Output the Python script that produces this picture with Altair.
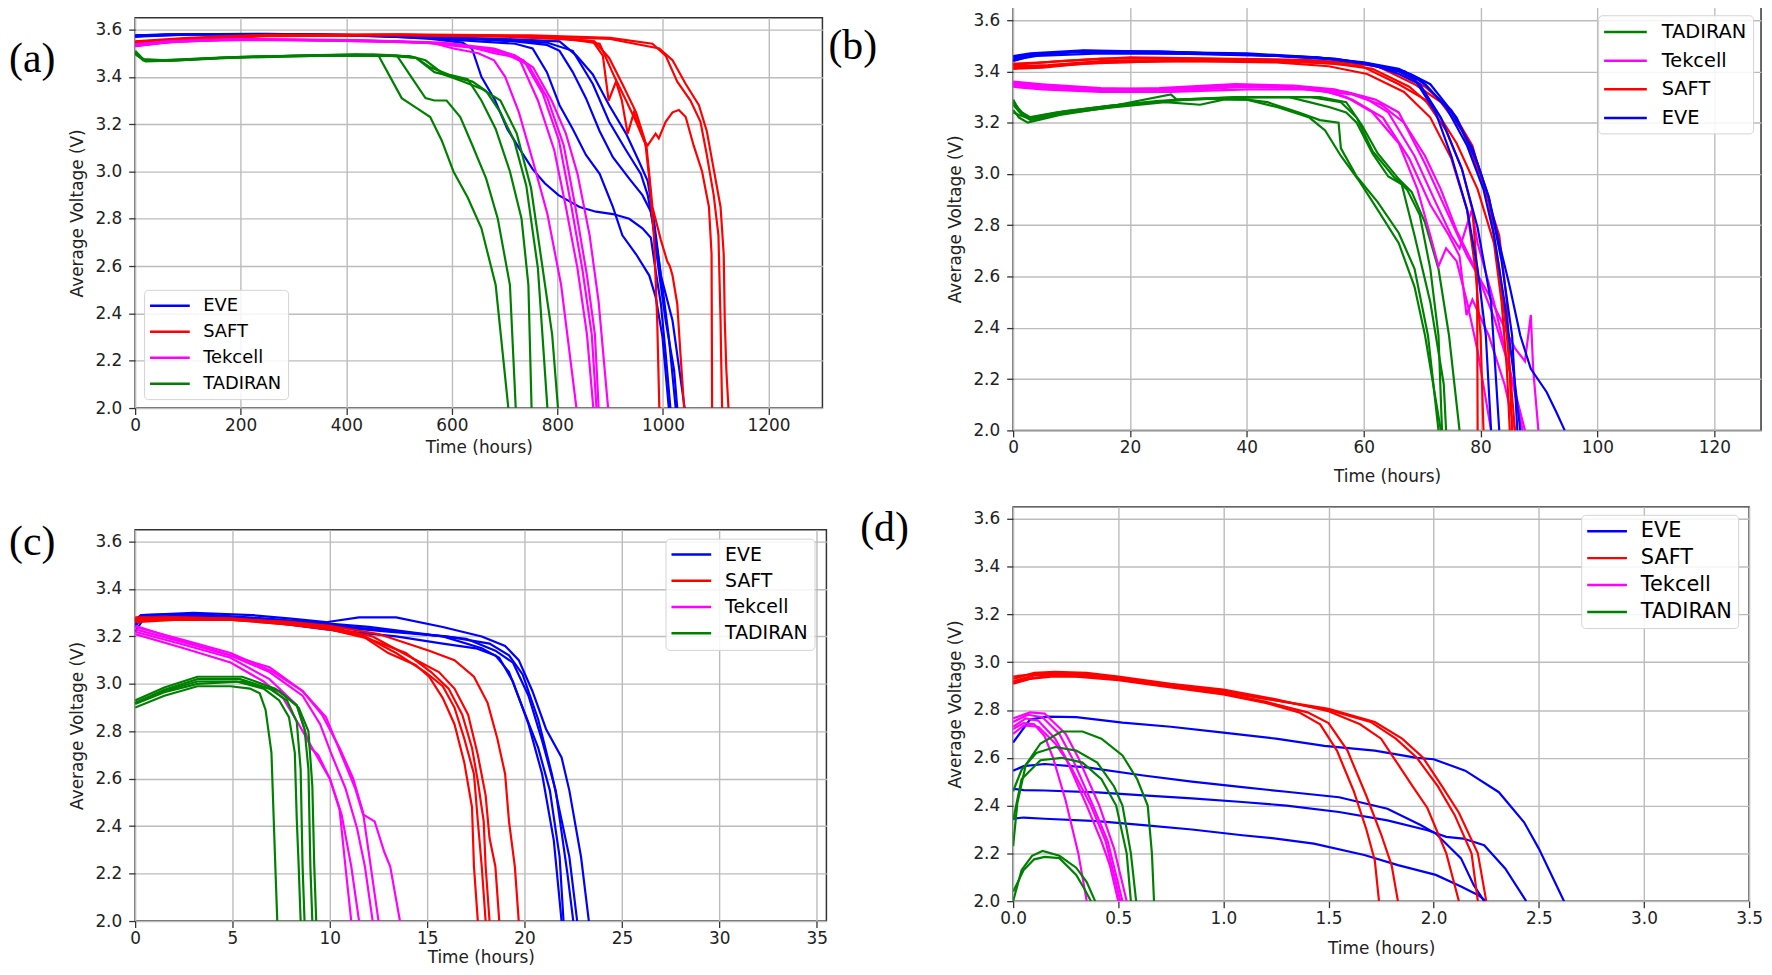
import math
import pandas as pd
import altair as alt

# ---- brands and colours (matplotlib style b / r / magenta / g)
brand_colors = {"EVE": "#0000ff", "SAFT": "#ff0000", "Tekcell": "#ff00ff", "TADIRAN": "#008000"}
volt_ticks = [2.0, 2.2, 2.4, 2.6, 2.8, 3.0, 3.2, 3.4, 3.6]

#%% (a) discharge curves, time in hours, [t, V] per cell
a_eve = [
    [(0, 3.575), (40, 3.578), (150, 3.58), (300, 3.58), (450, 3.575), (560, 3.56), (620, 3.545), (638, 3.52), (656, 3.40), (682, 3.30), (705, 3.18), (727, 3.10), (753, 3.01), (776, 2.95), (802, 2.90), (842, 2.85), (873, 2.83), (905, 2.82), (936, 2.80), (961, 2.76), (977, 2.72), (986, 2.58), (996, 2.44), (1005, 2.23), (1014, 2.0)],
    [(0, 3.57), (60, 3.58), (200, 3.58), (400, 3.575), (550, 3.565), (650, 3.55), (720, 3.54), (753, 3.52), (780, 3.42), (804, 3.28), (829, 3.18), (854, 3.07), (880, 2.99), (905, 2.85), (923, 2.73), (949, 2.65), (974, 2.56), (986, 2.47), (999, 2.30), (1011, 2.0)],
    [(0, 3.575), (80, 3.58), (250, 3.582), (450, 3.575), (600, 3.565), (720, 3.55), (780, 3.535), (804, 3.51), (829, 3.42), (854, 3.31), (880, 3.17), (905, 3.06), (936, 2.97), (961, 2.90), (977, 2.83), (986, 2.72), (999, 2.51), (1011, 2.30), (1024, 2.0)],
    [(0, 3.57), (100, 3.578), (300, 3.58), (500, 3.57), (650, 3.56), (780, 3.545), (829, 3.51), (867, 3.37), (898, 3.21), (930, 3.09), (958, 2.99), (971, 2.90), (980, 2.79), (992, 2.58), (1005, 2.37), (1021, 2.16), (1027, 2.0)],
    [(0, 3.572), (120, 3.58), (350, 3.58), (550, 3.57), (700, 3.56), (804, 3.55), (836, 3.49), (867, 3.41), (898, 3.28), (930, 3.16), (955, 3.04), (971, 2.96), (983, 2.79), (996, 2.56), (1018, 2.37), (1041, 2.0)],
]
a_saft = [
    [(0, 3.545), (100, 3.56), (250, 3.575), (500, 3.578), (700, 3.572), (800, 3.565), (870, 3.55), (898, 3.48), (923, 3.37), (949, 3.25), (966, 3.13), (974, 2.97), (983, 2.72), (989, 2.37), (993, 2.0)],
    [(0, 3.54), (100, 3.558), (250, 3.572), (500, 3.575), (700, 3.57), (800, 3.56), (867, 3.55), (886, 3.49), (897, 3.30), (911, 3.38), (922, 3.30), (933, 3.16), (945, 3.25), (958, 3.17), (969, 3.10), (980, 2.85), (996, 2.71), (1008, 2.62), (1013, 2.60), (1018, 2.56), (1027, 2.44), (1033, 2.23), (1040, 2.0)],
    [(0, 3.548), (100, 3.562), (250, 3.576), (500, 3.578), (700, 3.572), (820, 3.56), (880, 3.54), (908, 3.40), (930, 3.30), (949, 3.21), (964, 3.13), (971, 3.11), (986, 3.16), (992, 3.14), (1005, 3.21), (1018, 3.25), (1030, 3.26), (1043, 3.23), (1058, 3.11), (1074, 3.0), (1087, 2.85), (1092, 2.65), (1093, 2.0)],
    [(0, 3.55), (100, 3.565), (250, 3.578), (500, 3.58), (750, 3.575), (900, 3.565), (980, 3.54), (1005, 3.49), (1027, 3.38), (1052, 3.30), (1071, 3.21), (1083, 3.07), (1096, 2.90), (1105, 2.73), (1109, 2.37), (1110, 2.23), (1112, 2.0)],
    [(0, 3.543), (100, 3.56), (250, 3.574), (500, 3.578), (750, 3.572), (900, 3.56), (993, 3.52), (1018, 3.47), (1043, 3.37), (1068, 3.28), (1083, 3.17), (1096, 3.01), (1109, 2.85), (1115, 2.65), (1117, 2.37), (1120, 2.16), (1124, 2.0)],
]
a_tek = [
    [(0, 3.53), (50, 3.545), (150, 3.555), (300, 3.555), (450, 3.55), (560, 3.545), (603, 3.52), (650, 3.50), (680, 3.47), (701, 3.40), (727, 3.25), (754, 3.04), (781, 2.82), (807, 2.52), (836, 2.0)],
    [(0, 3.535), (60, 3.55), (180, 3.56), (350, 3.555), (500, 3.55), (620, 3.535), (680, 3.50), (727, 3.48), (763, 3.30), (794, 3.09), (816, 2.85), (838, 2.59), (856, 2.31), (868, 2.0)],
    [(0, 3.53), (70, 3.548), (200, 3.558), (400, 3.552), (550, 3.545), (650, 3.52), (700, 3.50), (736, 3.47), (772, 3.33), (803, 3.13), (825, 2.87), (847, 2.59), (865, 2.31), (874, 2.0)],
    [(0, 3.538), (80, 3.55), (220, 3.56), (420, 3.555), (580, 3.545), (680, 3.52), (720, 3.49), (754, 3.44), (789, 3.30), (816, 3.16), (838, 2.99), (861, 2.73), (878, 2.45), (896, 2.0)],
    [(0, 3.532), (90, 3.552), (250, 3.558), (450, 3.552), (600, 3.54), (690, 3.51), (745, 3.45), (781, 3.31), (812, 3.11), (834, 2.85), (856, 2.56), (871, 2.31), (878, 2.0)],
]
a_tad = [
    [(0, 3.51), (15, 3.475), (60, 3.47), (150, 3.48), (300, 3.49), (420, 3.495), (461, 3.49), (483, 3.40), (505, 3.31), (532, 3.27), (559, 3.23), (581, 3.13), (603, 3.0), (630, 2.89), (656, 2.76), (683, 2.52), (707, 2.0)],
    [(0, 3.50), (18, 3.47), (70, 3.468), (160, 3.48), (320, 3.49), (450, 3.495), (496, 3.49), (523, 3.40), (550, 3.31), (567, 3.30), (590, 3.30), (616, 3.23), (639, 3.11), (665, 2.97), (687, 2.80), (710, 2.52), (721, 2.0)],
    [(0, 3.495), (20, 3.465), (80, 3.47), (180, 3.48), (350, 3.49), (480, 3.49), (532, 3.48), (559, 3.44), (594, 3.41), (630, 3.39), (656, 3.30), (683, 3.18), (710, 3.0), (732, 2.80), (745, 2.52), (751, 2.0)],
    [(0, 3.505), (15, 3.47), (90, 3.472), (200, 3.485), (380, 3.492), (500, 3.49), (532, 3.48), (567, 3.42), (603, 3.40), (639, 3.38), (665, 3.34), (692, 3.25), (718, 3.13), (741, 2.94), (763, 2.59), (781, 2.0)],
    [(0, 3.50), (20, 3.468), (100, 3.475), (220, 3.485), (400, 3.49), (520, 3.488), (550, 3.47), (585, 3.41), (621, 3.38), (656, 3.35), (692, 3.30), (723, 3.16), (750, 2.93), (772, 2.59), (790, 2.31), (801, 2.0)],
]

#%% (b)
b_eve = [
    [(0, 3.44), (3, 3.46), (10, 3.475), (25, 3.478), (40, 3.465), (52, 3.455), (60, 3.43), (66, 3.40), (68.7, 3.37), (72.3, 3.24), (75, 3.07), (77.7, 2.86), (79.5, 2.63), (80.9, 2.37), (81.8, 2.0)],
    [(0, 3.45), (4, 3.465), (12, 3.48), (25, 3.475), (40, 3.47), (52, 3.455), (60, 3.435), (66, 3.41), (69.6, 3.37), (74.1, 3.26), (77.7, 3.11), (80.5, 2.94), (82.3, 2.76), (84.1, 2.50), (85.9, 2.18), (86.8, 2.0)],
    [(0, 3.455), (5, 3.47), (15, 3.478), (30, 3.47), (45, 3.462), (55, 3.45), (62, 3.425), (67, 3.40), (70.5, 3.35), (75, 3.24), (78.6, 3.10), (81.4, 2.91), (83.6, 2.66), (85.4, 2.37), (86.3, 2.0)],
    [(0, 3.445), (4, 3.46), (15, 3.47), (30, 3.468), (45, 3.46), (56, 3.445), (63, 3.42), (68, 3.39), (71.4, 3.35), (75.9, 3.22), (79.5, 3.04), (81.4, 2.91), (83.2, 2.73), (85, 2.56), (86.8, 2.37), (88.6, 2.24), (91.3, 2.15), (93, 2.07), (94.4, 2.0)],
    [(0, 3.46), (3, 3.47), (12, 3.482), (28, 3.475), (42, 3.465), (54, 3.45), (61, 3.43), (66, 3.39), (69.6, 3.35), (73.2, 3.22), (76.8, 3.02), (79.5, 2.79), (81.8, 2.50), (83.2, 2.0)],
]
b_saft = [
    [(0, 3.41), (5, 3.415), (12, 3.43), (25, 3.44), (40, 3.44), (52, 3.435), (59.7, 3.42), (66, 3.35), (70.5, 3.29), (74.1, 3.17), (76.8, 3.02), (78.6, 2.86), (79.4, 2.63), (79.5, 2.0)],
    [(0, 3.42), (6, 3.425), (15, 3.44), (30, 3.445), (45, 3.44), (55, 3.43), (61.5, 3.41), (67.8, 3.34), (72.3, 3.25), (75.9, 3.12), (79.5, 2.94), (82.3, 2.73), (83.6, 2.50), (84.5, 2.24), (85, 2.0)],
    [(0, 3.43), (5, 3.435), (15, 3.45), (30, 3.45), (45, 3.445), (56, 3.435), (62.4, 3.42), (68.7, 3.35), (73.2, 3.28), (76.8, 3.17), (80, 2.99), (83.2, 2.76), (84.5, 2.50), (85.4, 2.0)],
    [(0, 3.425), (8, 3.44), (20, 3.455), (35, 3.45), (50, 3.445), (60, 3.43), (66, 3.40), (70.5, 3.34), (75, 3.25), (78.6, 3.11), (81.4, 2.89), (83.2, 2.63), (84.5, 2.37), (85.9, 2.0)],
    [(0, 3.415), (6, 3.42), (16, 3.435), (30, 3.44), (45, 3.435), (54, 3.42), (60.6, 3.39), (66.9, 3.32), (71.4, 3.22), (75, 3.06), (77.7, 2.86), (79.1, 2.63), (80, 2.37), (80.5, 2.0)],
]
b_tek = [
    [(0, 3.36), (5, 3.35), (15, 3.335), (25, 3.33), (35, 3.345), (45, 3.345), (52, 3.33), (57, 3.30), (61.5, 3.24), (66, 3.12), (69.2, 2.94), (71.4, 2.76), (72.8, 2.64), (74.1, 2.71), (75.9, 2.66), (77.7, 2.50), (79.5, 2.31), (81.8, 2.0)],
    [(0, 3.35), (6, 3.34), (16, 3.325), (26, 3.33), (36, 3.34), (46, 3.34), (54, 3.32), (58, 3.29), (63.3, 3.22), (67.8, 3.06), (71.4, 2.88), (74.6, 2.76), (76.4, 2.68), (77.6, 2.45), (78.6, 2.51), (81.4, 2.37), (84.1, 2.18), (85.9, 2.0)],
    [(0, 3.355), (5, 3.345), (15, 3.33), (25, 3.335), (38, 3.35), (48, 3.345), (55, 3.33), (60, 3.30), (64.2, 3.24), (68.7, 3.07), (72.3, 2.89), (75, 2.76), (76.4, 2.71), (78.5, 2.86), (79.5, 2.73), (82.3, 2.50), (84.9, 2.24), (87.6, 2.0)],
    [(0, 3.345), (6, 3.335), (18, 3.32), (28, 3.325), (40, 3.34), (50, 3.335), (57, 3.32), (62, 3.29), (66, 3.24), (70.5, 3.04), (74.1, 2.86), (77.7, 2.68), (81.4, 2.53), (84.1, 2.40), (85.9, 2.32), (87.6, 2.27), (88.6, 2.45), (89, 2.24), (89.9, 2.0)],
    [(0, 3.34), (5, 3.33), (15, 3.32), (27, 3.32), (40, 3.33), (50, 3.33), (58, 3.31), (63, 3.27), (66.9, 3.20), (70.5, 3.07), (73.2, 2.94), (75.9, 2.78), (79.1, 2.63), (82.3, 2.44), (85, 2.24), (87.2, 2.0)],
]
b_tad = [
    [(0, 3.29), (1, 3.25), (2.5, 3.22), (7.5, 3.24), (16, 3.265), (25, 3.285), (35, 3.295), (40, 3.29), (43.5, 3.28), (48.9, 3.24), (52.5, 3.21), (55.7, 3.20), (56.1, 3.10), (58.8, 2.99), (62.4, 2.89), (66, 2.77), (68.7, 2.63), (71, 2.37), (72.8, 2.0)],
    [(0, 3.27), (1.5, 3.23), (3, 3.21), (8, 3.235), (17, 3.26), (26, 3.28), (32, 3.27), (36, 3.29), (40, 3.29), (45.3, 3.26), (50.7, 3.22), (53.4, 3.17), (56.1, 3.07), (59.3, 2.97), (62.4, 2.86), (66, 2.73), (68.7, 2.56), (70.5, 2.37), (73.2, 2.0)],
    [(0, 3.25), (1, 3.22), (2.5, 3.20), (8, 3.23), (18, 3.265), (28, 3.29), (38, 3.30), (47.1, 3.30), (50.7, 3.28), (54.2, 3.26), (57, 3.24), (58.8, 3.20), (61.5, 3.08), (64.2, 2.99), (66.5, 2.96), (68.7, 2.76), (71.4, 2.50), (73.7, 2.18), (74.1, 2.0)],
    [(0, 3.28), (1.5, 3.24), (3, 3.22), (9, 3.245), (18, 3.27), (27, 3.31), (28, 3.29), (40, 3.30), (50.7, 3.30), (56.1, 3.28), (58.8, 3.22), (61.5, 3.09), (65.1, 2.99), (67.4, 2.94), (69.6, 2.84), (71.4, 2.63), (72.8, 2.37), (73.4, 2.0)],
    [(0, 3.24), (1, 3.23), (3, 3.215), (9, 3.24), (18, 3.27), (30, 3.29), (42, 3.30), (52.5, 3.30), (57, 3.28), (59.7, 3.19), (62.4, 3.08), (66, 2.98), (68.2, 2.93), (70.5, 2.81), (72.8, 2.63), (74.6, 2.37), (76.4, 2.0)],
]

#%% (c)
c_eve = [
    [(0, 3.24), (0.4, 3.29), (3, 3.30), (6, 3.29), (8, 3.275), (9.8, 3.26), (11.5, 3.28), (13.4, 3.28), (15.8, 3.24), (17.8, 3.20), (19, 3.16), (19.7, 3.10), (20.4, 2.97), (21.1, 2.81), (21.9, 2.69), (22.3, 2.55), (22.9, 2.27), (23.3, 2.0)],
    [(0, 3.26), (0.3, 3.28), (3, 3.29), (6, 3.27), (9.8, 3.23), (13.4, 3.20), (15.8, 3.17), (17.5, 3.15), (18.5, 3.12), (19.2, 3.05), (19.9, 2.90), (20.7, 2.73), (21.3, 2.55), (21.8, 2.27), (22, 2.0)],
    [(0, 3.27), (0.3, 3.29), (3, 3.295), (6, 3.28), (9, 3.26), (12, 3.24), (15.8, 3.20), (17.8, 3.15), (18.7, 3.11), (19.4, 3.01), (20.2, 2.83), (20.9, 2.62), (21.5, 2.34), (21.9, 2.0)],
    [(0, 3.25), (0.4, 3.28), (3, 3.285), (6, 3.275), (9, 3.255), (13, 3.225), (17, 3.19), (18.5, 3.14), (19.4, 3.09), (20.2, 2.95), (20.9, 2.76), (21.6, 2.55), (22.2, 2.20), (22.5, 2.0)],
    [(0, 3.22), (0.4, 3.27), (3, 3.28), (6, 3.27), (9, 3.25), (13, 3.22), (16, 3.20), (18.2, 3.17), (19.2, 3.12), (19.9, 3.04), (20.7, 2.85), (21.4, 2.62), (22.3, 2.27), (22.7, 2.0)],
]
c_saft = [
    [(0, 3.27), (2, 3.275), (5, 3.27), (8, 3.25), (10, 3.23), (11.7, 3.20), (13, 3.13), (14.4, 3.08), (15.1, 3.03), (15.8, 2.94), (16.4, 2.83), (16.9, 2.67), (17.3, 2.48), (17.4, 2.23), (17.6, 2.0)],
    [(0, 3.28), (2, 3.28), (5, 3.275), (8, 3.255), (10, 3.235), (11.8, 3.20), (13.4, 3.13), (14.9, 3.05), (15.8, 2.99), (16.4, 2.90), (16.9, 2.77), (17.4, 2.62), (17.6, 2.42), (17.8, 2.23), (18.0, 2.0)],
    [(0, 3.26), (2, 3.27), (5, 3.27), (8, 3.25), (10, 3.23), (12, 3.19), (13.9, 3.13), (15.2, 3.05), (16.1, 2.98), (16.8, 2.87), (17.3, 2.73), (17.6, 2.59), (17.9, 2.42), (18.0, 2.23), (18.2, 2.0)],
    [(0, 3.275), (2, 3.28), (5, 3.275), (8, 3.26), (10, 3.24), (12.2, 3.20), (14.2, 3.11), (15.6, 3.05), (16.4, 2.98), (17.1, 2.87), (17.6, 2.70), (18.0, 2.53), (18.2, 2.35), (18.5, 2.23), (18.7, 2.0)],
    [(0, 3.265), (2, 3.275), (5, 3.27), (8, 3.26), (10, 3.245), (12.5, 3.21), (15.1, 3.14), (16.4, 3.10), (17.4, 3.03), (18.1, 2.92), (18.6, 2.77), (19.0, 2.62), (19.2, 2.42), (19.5, 2.23), (19.7, 2.0)],
]
c_tek = [
    [(0, 3.21), (2.5, 3.15), (4.9, 3.09), (6.6, 3.01), (7.6, 2.94), (8.4, 2.83), (9.3, 2.70), (10, 2.60), (10.5, 2.47), (10.8, 2.23), (11.1, 2.0)],
    [(0, 3.22), (2.5, 3.165), (4.9, 3.11), (6.9, 3.02), (8.3, 2.91), (9, 2.73), (9.4, 2.70), (10, 2.60), (10.6, 2.45), (11.1, 2.23), (11.5, 2.0)],
    [(0, 3.23), (2.5, 3.175), (4.9, 3.12), (6.9, 3.05), (8.6, 2.95), (9.5, 2.83), (10.1, 2.70), (10.8, 2.56), (11.4, 2.39), (11.8, 2.23), (12.2, 2.0)],
    [(0, 3.24), (2.5, 3.185), (4.9, 3.13), (7.1, 3.05), (8.6, 2.97), (9.6, 2.87), (10.5, 2.73), (11.2, 2.60), (11.7, 2.46), (12.1, 2.23), (12.5, 2.0)],
    [(0, 3.245), (2.5, 3.18), (4.9, 3.12), (6.9, 3.07), (8.6, 2.97), (9.8, 2.86), (10.6, 2.70), (11.3, 2.56), (11.7, 2.45), (12.3, 2.42), (12.8, 2.29), (13.1, 2.23), (13.6, 2.0)],
]
c_tad = [
    [(0, 2.90), (1.5, 2.95), (3.2, 2.99), (4.9, 2.99), (5.9, 2.98), (6.4, 2.96), (6.7, 2.89), (7.0, 2.71), (7.2, 2.23), (7.3, 2.0)],
    [(0, 2.92), (1.5, 2.97), (3.2, 3.01), (5.2, 3.01), (6.6, 2.98), (7.4, 2.93), (7.9, 2.86), (8.2, 2.71), (8.3, 2.43), (8.4, 2.23), (8.5, 2.0)],
    [(0, 2.92), (1.5, 2.975), (3.2, 3.02), (5.4, 3.02), (6.9, 2.98), (7.8, 2.93), (8.3, 2.84), (8.5, 2.64), (8.6, 2.23), (8.7, 2.0)],
    [(0, 2.93), (1.5, 2.985), (3.2, 3.03), (5.5, 3.03), (7.2, 2.98), (8.3, 2.91), (8.7, 2.81), (8.9, 2.64), (9.0, 2.23), (9.1, 2.0)],
    [(0, 2.915), (1.5, 2.965), (3.2, 3.0), (5.5, 3.01), (7.4, 2.97), (8.4, 2.90), (8.9, 2.80), (9.1, 2.57), (9.2, 2.23), (9.3, 2.0)],
]

#%% (d)
d_eve = [
    [(0, 2.664), (0.08, 2.76), (0.16, 2.772), (0.3, 2.77), (0.52, 2.747), (0.75, 2.73), (1.0, 2.705), (1.25, 2.68), (1.48, 2.65), (1.72, 2.63), (1.92, 2.6), (2.0, 2.594), (2.15, 2.546), (2.31, 2.456), (2.43, 2.33), (2.5, 2.22), (2.62, 2.0)],
    [(0, 2.546), (0.05, 2.565), (0.15, 2.574), (0.35, 2.56), (0.62, 2.526), (0.85, 2.5), (1.09, 2.477), (1.3, 2.458), (1.55, 2.435), (1.78, 2.387), (1.94, 2.318), (2.01, 2.283), (2.13, 2.179), (2.19, 2.068), (2.24, 2.0)],
    [(0, 2.47), (0.05, 2.465), (0.15, 2.463), (0.4, 2.455), (0.62, 2.443), (0.85, 2.43), (1.09, 2.415), (1.3, 2.4), (1.55, 2.373), (1.78, 2.338), (1.97, 2.297), (2.06, 2.269), (2.14, 2.262), (2.24, 2.234), (2.34, 2.137), (2.44, 2.0)],
    [(0, 2.345), (0.05, 2.35), (0.15, 2.345), (0.4, 2.335), (0.62, 2.318), (0.85, 2.3), (1.09, 2.276), (1.25, 2.262), (1.43, 2.241), (1.67, 2.193), (1.83, 2.151), (2.01, 2.11), (2.13, 2.061), (2.21, 2.026), (2.25, 2.0)],
]
d_saft = [
    [(0, 2.91), (0.08, 2.93), (0.18, 2.94), (0.3, 2.94), (0.5, 2.925), (0.75, 2.895), (1.0, 2.865), (1.2, 2.83), (1.36, 2.79), (1.46, 2.74), (1.54, 2.63), (1.62, 2.46), (1.68, 2.3), (1.72, 2.17), (1.74, 2.0)],
    [(0, 2.92), (0.1, 2.945), (0.2, 2.95), (0.35, 2.945), (0.5, 2.93), (0.75, 2.9), (1.0, 2.87), (1.2, 2.835), (1.4, 2.79), (1.5, 2.745), (1.59, 2.63), (1.68, 2.44), (1.75, 2.28), (1.8, 2.15), (1.83, 2.0)],
    [(0, 2.93), (0.1, 2.955), (0.2, 2.96), (0.35, 2.955), (0.5, 2.94), (0.75, 2.91), (1.0, 2.885), (1.25, 2.845), (1.5, 2.795), (1.65, 2.74), (1.75, 2.68), (1.81, 2.6), (1.9, 2.48), (1.97, 2.39), (2.06, 2.2), (2.12, 2.0)],
    [(0, 2.94), (0.1, 2.95), (0.22, 2.955), (0.35, 2.95), (0.5, 2.935), (0.75, 2.905), (1.0, 2.88), (1.25, 2.84), (1.5, 2.80), (1.7, 2.75), (1.82, 2.68), (1.92, 2.6), (2.02, 2.48), (2.1, 2.36), (2.18, 2.2), (2.21, 2.0)],
    [(0, 2.915), (0.1, 2.935), (0.2, 2.945), (0.35, 2.94), (0.5, 2.93), (0.75, 2.9), (1.0, 2.875), (1.25, 2.84), (1.5, 2.805), (1.72, 2.75), (1.85, 2.68), (1.95, 2.6), (2.04, 2.48), (2.12, 2.37), (2.21, 2.2), (2.25, 2.0)],
]
d_tek = [
    [(0, 2.72), (0.05, 2.745), (0.1, 2.74), (0.15, 2.69), (0.19, 2.6), (0.25, 2.42), (0.31, 2.2), (0.35, 2.0)],
    [(0, 2.73), (0.06, 2.765), (0.12, 2.755), (0.2, 2.68), (0.25, 2.6), (0.35, 2.4), (0.42, 2.25), (0.46, 2.15), (0.5, 2.0)],
    [(0, 2.75), (0.07, 2.78), (0.14, 2.77), (0.22, 2.7), (0.28, 2.6), (0.38, 2.4), (0.45, 2.25), (0.52, 2.0)],
    [(0, 2.765), (0.08, 2.79), (0.15, 2.785), (0.25, 2.7), (0.31, 2.6), (0.41, 2.4), (0.48, 2.22), (0.54, 2.0)],
    [(0, 2.70), (0.05, 2.735), (0.12, 2.73), (0.2, 2.66), (0.27, 2.57), (0.37, 2.4), (0.44, 2.25), (0.51, 2.0)],
]
d_tad = [
    [(0, 2.23), (0.02, 2.41), (0.06, 2.57), (0.13, 2.66), (0.23, 2.71), (0.33, 2.71), (0.42, 2.68), (0.52, 2.61), (0.59, 2.51), (0.64, 2.4), (0.66, 2.2), (0.67, 2.0)],
    [(0, 2.46), (0.04, 2.55), (0.11, 2.62), (0.2, 2.645), (0.3, 2.63), (0.4, 2.58), (0.48, 2.48), (0.52, 2.4), (0.56, 2.2), (0.585, 2.0)],
    [(0, 2.34), (0.04, 2.51), (0.13, 2.59), (0.23, 2.60), (0.33, 2.58), (0.42, 2.51), (0.49, 2.4), (0.54, 2.2), (0.56, 2.0)],
    [(0, 2.0), (0.04, 2.13), (0.09, 2.19), (0.14, 2.21), (0.22, 2.19), (0.3, 2.14), (0.35, 2.08), (0.39, 2.0)],
    [(0, 2.04), (0.05, 2.13), (0.1, 2.175), (0.15, 2.185), (0.22, 2.18), (0.3, 2.11), (0.34, 2.05), (0.37, 2.0)],
]


#%% build long tables (one row per point, cell id keeps the lines apart)
def to_frame(groups):
    rows = []
    for brand, curves in groups:
        for k, curve in enumerate(curves):
            for i, (t, v) in enumerate(curve):
                rows.append({"brand": brand, "cell": brand + str(k), "i": i, "t": t, "v": v})
    return pd.DataFrame(rows)


df_a = to_frame([("EVE", a_eve), ("SAFT", a_saft), ("Tekcell", a_tek), ("TADIRAN", a_tad)])
df_b = to_frame([("TADIRAN", b_tad), ("Tekcell", b_tek), ("SAFT", b_saft), ("EVE", b_eve)])
df_c = to_frame([("EVE", c_eve), ("SAFT", c_saft), ("Tekcell", c_tek), ("TADIRAN", c_tad)])
df_d = to_frame([("EVE", d_eve), ("SAFT", d_saft), ("Tekcell", d_tek), ("TADIRAN", d_tad)])

SYM_PATH = "M-2.3,0H2.3"  # flat line symbol, like matplotlib's legend handles


def make_legend(lx, ly, fs, row_gap, sym_len, gap):
    s = sym_len / 2.3                      # sqrt(symbol size)
    cell = max(math.ceil(s + 2.5), fs)     # vega legend entry size
    sym_off = sym_len / 2 - cell / 2
    return alt.Legend(title=None, orient="none", legendX=lx, legendY=ly,
                      symbolType=SYM_PATH, symbolSize=s * s, symbolStrokeWidth=2.5,
                      symbolOffset=sym_off, labelOffset=sym_len + gap - cell - sym_off,
                      labelFont="DejaVu Sans", labelFontSize=fs, labelColor="#000000",
                      rowPadding=row_gap - fs - 1, padding=6,
                      fillColor="rgba(255,255,255,0.85)", strokeColor="#d4d4d4", cornerRadius=4)


def panel(df, order, xmax, xticks, xfmt, w, h, legend, tag, tag_pos, tpad):
    lines = alt.Chart(df).mark_line(strokeWidth=2.2, clip=True).encode(
        x=alt.X("t:Q", scale=alt.Scale(domain=[0, xmax], nice=False, zero=False),
                axis=alt.Axis(values=xticks, format=xfmt, title="Time (hours)", titlePadding=tpad)),
        y=alt.Y("v:Q", scale=alt.Scale(domain=[2.0, 3.65], nice=False, zero=False),
                axis=alt.Axis(values=volt_ticks, format=".1f", title="Average Voltage (V)")),
        color=alt.Color("brand:N", scale=alt.Scale(domain=order, range=[brand_colors[b] for b in order]),
                        legend=legend),
        detail="cell:N",
        order="i:Q",
    )
    label = alt.Chart(pd.DataFrame({"tag": [tag]})).mark_text(
        font="Liberation Serif", fontSize=42, align="left", baseline="middle", color="#000000"
    ).encode(x=alt.value(tag_pos[0]), y=alt.value(tag_pos[1]), text="tag:N")
    return alt.layer(lines, label).properties(
        width=w, height=h, view=alt.ViewBackground(stroke="#333333", strokeWidth=1.5))


def spacer(h):
    return alt.Chart(pd.DataFrame({"z": [0]})).mark_point(size=0, opacity=0, strokeWidth=0).encode(
        x=alt.value(0), y=alt.value(0)).properties(width=10, height=h)


def indep(c):
    return c.resolve_scale(color="independent", x="independent", y="independent").resolve_legend(color="independent")


order1 = ["EVE", "SAFT", "Tekcell", "TADIRAN"]
order2 = ["TADIRAN", "Tekcell", "SAFT", "EVE"]

pa = panel(df_a, order1, 1302, list(range(0, 1201, 200)), "d", 692, 393,
           make_legend(9, 274, 18, 26.2, 40, 13.5), "(a)", (-127, 42), 6)
pb = panel(df_b, order2, 128, list(range(0, 121, 20)), "d", 753, 426,
           make_legend(589, 8, 19.5, 28.3, 43, 15), "(b)", (-186, 39.5), 13)
pc = panel(df_c, order1, 35.5, list(range(0, 36, 5)), "d", 696, 394,
           make_legend(534, 9, 19, 26.4, 40, 14), "(c)", (-127, 12), 3)
pdd = panel(df_d, order1, 3.5, [0, 0.5, 1.0, 1.5, 2.0, 2.5, 3.0, 3.5], ".1f", 741, 397,
            make_legend(572, 8, 21, 27.1, 40, 14), "(d)", (-154, 21.5), 14)

col_a = indep(alt.vconcat(spacer(1), pa, spacing=7.5))
row1 = indep(alt.hconcat(col_a, pb, spacing=4))
col_c = indep(alt.vconcat(spacer(1), pc, spacing=11))
row2 = indep(alt.hconcat(col_c, pdd, spacing=31))

chart = indep(alt.vconcat(row1, row2, spacing=20))
chart = chart.configure_view(stroke="transparent").configure_axis(
    labelFont="DejaVu Sans", labelFontSize=17, labelColor="#222222", labelFlush=False,
    titleFont="DejaVu Sans", titleFontSize=17, titleFontWeight="normal", titleColor="#222222",
    grid=True, gridColor="#bcbcbc", gridWidth=1.4,
    domain=False, ticks=True, tickColor="#333333", tickSize=6.5, tickWidth=1.3,
).configure_axisX(labelPadding=3).configure_axisY(labelPadding=7, titlePadding=8)
chart = chart.properties(padding={"left": 0, "top": -5, "right": 0, "bottom": -2})

chart.save("out.html", embed_options={"renderer": "svg", "actions": False})
